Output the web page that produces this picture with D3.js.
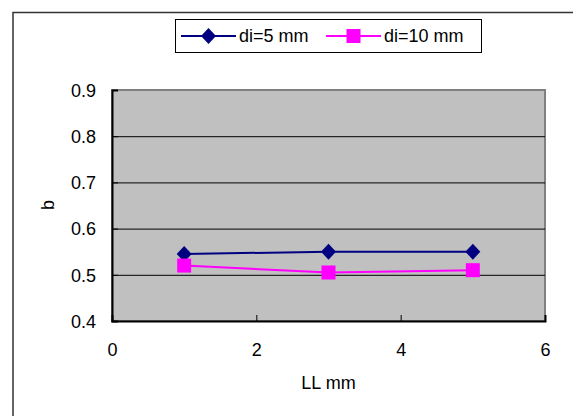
<!DOCTYPE html>
<html lang="en">
<head>
    <meta charset="UTF-8">
    <title>b vs LL</title>
    <script src="https://cdn.jsdelivr.net/npm/d3@7"></script>
    <style>
        body { margin: 0; background: #fff; }
        text { font-family: "Liberation Sans", Arial, sans-serif; fill: #000; }
        .grid line { stroke: #000; stroke-width: 1; }
        .grid path { display: none; }
    </style>
</head>
<body>
    <svg></svg>
<script>
    // data
    const xValues = [1, 3, 5];
    const di5 = [0.545, 0.55, 0.55];
    const di10 = [0.52, 0.505, 0.51];
    const seriesNames = ['di=5 mm', 'di=10 mm'];
    const xTicks = [0, 2, 4, 6];
    const yTicks = [0.4, 0.5, 0.6, 0.7, 0.8, 0.9];

    const W = 573, H = 416;
    const plot = { left: 112, right: 545, top: 90, bottom: 321 };

    const svg = d3.select('svg').attr('width', W).attr('height', H);

    // outer chart frame (runs off the right and bottom edges)
    svg.append('rect')
        .attr('x', 13).attr('y', 12.5)
        .attr('width', 700).attr('height', 500)
        .attr('fill', '#fff')
        .attr('stroke', '#333').attr('stroke-width', 1.5);

    const x = d3.scaleLinear().domain([0, 6]).range([plot.left, plot.right]);
    const y = d3.scaleLinear().domain([0.4, 0.9]).range([plot.bottom, plot.top]);

    // plot area
    svg.append('rect')
        .attr('x', plot.left).attr('y', plot.top)
        .attr('width', plot.right - plot.left).attr('height', plot.bottom - plot.top)
        .attr('fill', '#c0c0c0')
        .attr('stroke', '#808080').attr('stroke-width', 2);

    // gridlines
    svg.append('g')
        .attr('class', 'grid')
        .attr('transform', `translate(${plot.left},0)`)
        .call(d3.axisLeft(y).tickValues([0.5, 0.6, 0.7, 0.8]).tickSize(-(plot.right - plot.left)).tickFormat(''));

    // y axis (ticks inside)
    const yAxis = svg.append('g')
        .attr('transform', `translate(${plot.left},0)`)
        .call(d3.axisLeft(y).tickValues(yTicks).tickSize(-6).tickPadding(16).tickFormat(d3.format('.1f')));
    yAxis.select('.domain').attr('stroke', '#000').attr('stroke-width', 2);
    yAxis.selectAll('.tick line').attr('stroke', '#000');
    yAxis.selectAll('text').style('font-size', '18px').attr('dy', '0.35em');

    // x axis (ticks inside)
    const xAxis = svg.append('g')
        .attr('transform', `translate(0,${plot.bottom})`)
        .call(d3.axisBottom(x).tickValues(xTicks).tickSize(-6).tickPadding(22).tickFormat(d3.format('d')));
    xAxis.select('.domain').attr('stroke', '#000').attr('stroke-width', 2);
    xAxis.selectAll('.tick line').attr('stroke', '#000');
    xAxis.selectAll('text').style('font-size', '18px');

    // axis titles
    svg.append('text')
        .attr('x', (plot.left + plot.right) / 2).attr('y', 389)
        .attr('text-anchor', 'middle')
        .style('font-size', '18px')
        .text('LL mm');

    svg.append('text')
        .attr('transform', 'translate(54,205) rotate(-90)')
        .attr('text-anchor', 'middle')
        .style('font-size', '18px')
        .text('b');

    const line = d3.line().x((d, i) => x(xValues[i])).y(d => y(d));
    const diamond = 'M0,-8L7.5,0L0,8L-7.5,0Z';

    function drawSeries(vals, color, marker) {
        svg.append('path')
            .datum(vals)
            .attr('fill', 'none')
            .attr('stroke', color)
            .attr('stroke-width', 2)
            .attr('d', line);
        const g = svg.selectAll(null)
            .data(vals)
            .enter()
            .append('g')
            .attr('transform', (d, i) => `translate(${x(xValues[i])},${y(d)})`);
        if (marker === 'diamond') {
            g.append('path').attr('d', diamond).attr('fill', color);
        } else {
            g.append('rect').attr('x', -7).attr('y', -7).attr('width', 14).attr('height', 14).attr('fill', color);
        }
    }

    drawSeries(di5, '#000080', 'diamond');
    drawSeries(di10, '#ff00ff', 'square');

    // legend
    const legend = svg.append('g');
    legend.append('rect')
        .attr('x', 175.5).attr('y', 19.5)
        .attr('width', 306).attr('height', 33)
        .attr('fill', '#fff').attr('stroke', '#000').attr('stroke-width', 1);

    const items = [
        { name: seriesNames[0], color: '#000080', marker: 'diamond', x0: 181 },
        { name: seriesNames[1], color: '#ff00ff', marker: 'square', x0: 326 }
    ];
    items.forEach(it => {
        legend.append('line')
            .attr('x1', it.x0).attr('x2', it.x0 + 55)
            .attr('y1', 36).attr('y2', 36)
            .attr('stroke', it.color).attr('stroke-width', 2);
        const cx = it.x0 + 27.5;
        if (it.marker === 'diamond') {
            legend.append('path').attr('d', diamond).attr('transform', `translate(${cx},36)`).attr('fill', it.color);
        } else {
            legend.append('rect').attr('x', cx - 7).attr('y', 29).attr('width', 14).attr('height', 14).attr('fill', it.color);
        }
        legend.append('text')
            .attr('x', it.x0 + 58).attr('y', 42)
            .style('font-size', '18px')
            .text(it.name);
    });
</script>
</body>
</html>
